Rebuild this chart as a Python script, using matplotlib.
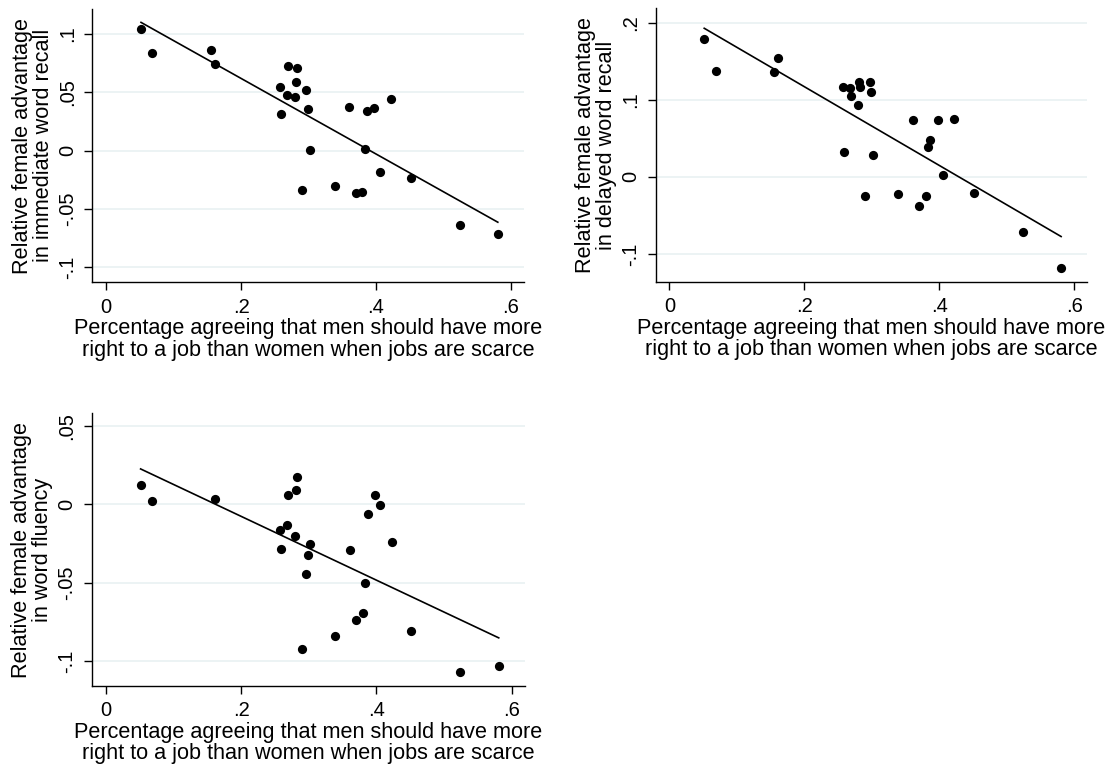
import numpy as np
import matplotlib
matplotlib.use("Agg")
import matplotlib.pyplot as plt

plt.rcParams["font.family"] = ["Liberation Sans", "DejaVu Sans"]

# share agreeing that men have more right to a job (one value per country)
pct_agree = [0.0517, 0.0686, 0.1557, 0.1610, 0.2697, 0.2823, 0.2807, 0.2580, 0.2966,
             0.2681, 0.2792, 0.2590, 0.2992, 0.3604, 0.3868, 0.3974, 0.4222, 0.3024,
             0.3831, 0.4053, 0.4512, 0.3393, 0.2897, 0.3704, 0.3799, 0.5240, 0.5805]

immediate_recall = [0.1044, 0.0836, 0.0859, 0.0737, 0.0725, 0.0708, 0.0589, 0.0546, 0.0515,
                    0.0478, 0.0461, 0.0313, 0.0353, 0.0370, 0.0341, 0.0361, 0.0438, 0.0006,
                    0.0017, -0.0182, -0.0239, -0.0302, -0.0339, -0.0364, -0.0358, -0.0634, -0.0714]

delayed_recall = [0.1794, 0.1375, 0.1362, 0.1539, 0.1046, 0.1167, 0.1232, 0.1167, 0.1232,
                  0.1159, 0.0938, 0.0324, 0.1098, 0.0744, 0.0476, 0.0735, 0.0757, 0.0290,
                  0.0385, 0.0022, -0.0208, -0.0225, -0.0242, -0.0380, -0.0242, -0.0718, -0.1176]

word_fluency = [0.0124, 0.0023, np.nan, 0.0036, 0.0058, 0.0175, 0.0092, -0.0164, -0.0446,
                -0.0130, -0.0201, -0.0286, -0.0324, -0.0290, -0.0064, 0.0058, -0.0243, -0.0252,
                -0.0501, -0.0002, -0.0811, -0.0841, -0.0924, -0.0740, -0.0693, -0.1071, -0.1033]

x_ticks = [0, 0.2, 0.4, 0.6]
x_labels = ["0", ".2", ".4", ".6"]

xlabel = "Percentage agreeing that men should have more\nright to a job than women when jobs are scarce"

panels = [
    # values, ylabel, yticks, yticklabels, axes rect (px), ylim
    (immediate_recall, "Relative female advantage\nin immediate word recall",
     [-0.1, -0.05, 0, 0.05, 0.1], ["-.1", "-.05", "0", ".05", ".1"],
     (92.3, 9.3, 524.0, 282.3), (-0.1128, 0.1209)),
    (delayed_recall, "Relative female advantage\nin delayed word recall",
     [-0.1, 0, 0.1, 0.2], ["-.1", "0", ".1", ".2"],
     (655.5, 8.3, 1087.3, 282.0), (-0.1363, 0.2187)),
    (word_fluency, "Relative female advantage\nin word fluency",
     [-0.1, -0.05, 0, 0.05], ["-.1", "-.05", "0", ".05"],
     (91.7, 413.3, 525.0, 686.0), (-0.116, 0.0581)),
]

W, H = 1116, 774
fig = plt.figure(figsize=(W / 100, H / 100), dpi=100)

x = np.array(pct_agree)
for vals, ylab, yt, ytl, (l, t, r, b), ylim in panels:
    ax = fig.add_axes([l / W, 1 - b / H, (r - l) / W, (b - t) / H])
    y = np.array(vals)
    ok = ~np.isnan(y)
    ax.scatter(x[ok], y[ok], s=44, color="black", zorder=3, linewidths=0)
    slope, icpt = np.polyfit(x[ok], y[ok], 1)
    xs = np.array([x[ok].min(), x[ok].max()])
    ax.plot(xs, icpt + slope * xs, color="black", lw=1.2, zorder=2)

    ax.set_xlim(-0.0205, 0.6193)
    ax.set_ylim(*ylim)
    ax.set_xticks(x_ticks)
    ax.set_xticklabels(x_labels)
    ax.set_yticks(yt)
    ax.set_yticklabels(ytl, rotation=90, va="center")
    ax.grid(axis="y", color="#eaf2f3", lw=1.3, zorder=0)
    ax.set_axisbelow(True)
    for s in ["top", "right"]:
        ax.spines[s].set_visible(False)
    for s in ["left", "bottom"]:
        ax.spines[s].set_linewidth(1.0)
    ax.tick_params(length=6, width=1.0, labelsize=14.5, pad=5)
    ax.set_xlabel(xlabel, fontsize=15.6, linespacing=1.05, labelpad=1)
    ax.set_ylabel(ylab, fontsize=15.6, linespacing=1.0, labelpad=3)

fig.savefig("out.png", dpi=100)
